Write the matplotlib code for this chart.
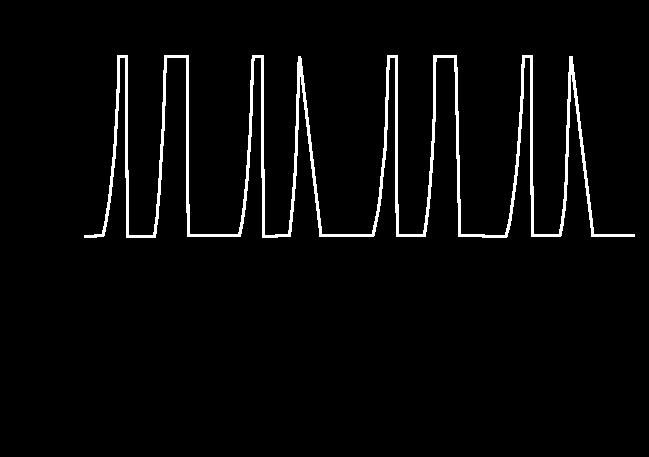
import matplotlib
matplotlib.use("Agg")
import matplotlib.pyplot as plt

# signal: t = sample position, v = level (0 = rest, 1 = saturated)
t = [0, 9.0, 9.5, 17.0,
     17.3, 18.7, 20.0, 21.3, 22.7, 24.0, 25.3, 26.7, 28.0, 29.0, 30.0, 31.0, 32.0, 32.7,
     40.7, 40.7, 41.7, 68.4,
     69.0, 70.0, 71.0, 71.7, 72.7, 73.7, 74.7, 75.7, 76.7, 77.7, 78.7, 79.7,
     101.3, 101.3, 102.3, 153.4,
     153.7, 154.7, 155.7, 156.7, 157.7, 158.7, 159.7, 160.7, 161.7, 162.7, 163.7, 164.7, 165.7, 166.3, 167.3,
     176.7, 176.7, 177.7, 190.0, 190.5, 203.5,
     204.0, 205.0, 206.0, 207.0, 208.0, 209.0, 210.0, 211.0, 212.0, 213.0, 213.7,
     235.0, 287.0,
     287.3, 288.0, 289.0, 290.0, 291.0, 292.0, 293.0, 294.0, 295.0, 296.0, 297.5, 299.0, 300.0, 301.0, 302.0, 302.7,
     310.3, 310.3, 311.3, 338.4,
     338.7, 339.7, 340.7, 341.7, 342.7, 343.7, 344.7, 345.7, 346.7, 347.7, 348.3, 348.7, 349.0,
     369.7, 373.8, 397.3, 397.8, 419.8,
     420.0, 421.3, 422.7, 424.0, 425.3, 426.7, 428.0, 429.3, 430.7, 432.0, 433.3, 434.7, 436.0, 437.3,
     445.5, 445.5, 446.5, 473.7,
     474.0, 475.0, 476.0, 477.0, 478.0, 479.0, 480.0, 481.0, 482.0, 483.0, 484.0, 485.0,
     507.0, 547.3]
v = [0, 0, 0.006, 0.006,
     0.011, 0.048, 0.085, 0.131, 0.177, 0.232, 0.297, 0.362, 0.435, 0.509, 0.601, 0.703, 0.804, 1.0,
     1.0, 0.5, 0.0, 0.0,
     0.021, 0.067, 0.104, 0.159, 0.214, 0.288, 0.389, 0.491, 0.555, 0.675, 0.878, 1.0,
     1.0, 0.511, 0.006, 0.006,
     0.011, 0.039, 0.066, 0.103, 0.140, 0.186, 0.241, 0.297, 0.362, 0.454, 0.528, 0.629, 0.786, 0.924, 1.0,
     1.0, 0.502, 0.0, 0.0, 0.006, 0.006,
     0.030, 0.085, 0.140, 0.204, 0.269, 0.343, 0.454, 0.601, 0.777, 0.961, 1.0,
     0.006, 0.006,
     0.011, 0.030, 0.057, 0.085, 0.113, 0.140, 0.177, 0.214, 0.269, 0.334, 0.41, 0.481, 0.601, 0.777, 0.934, 1.0,
     1.0, 0.509, 0.006, 0.006,
     0.021, 0.057, 0.103, 0.140, 0.196, 0.260, 0.334, 0.408, 0.491, 0.601, 0.684, 0.786, 1.0,
     1.0, 0.006, 0.006, 0.0, 0.0,
     0.002, 0.030, 0.057, 0.094, 0.140, 0.196, 0.251, 0.306, 0.371, 0.454, 0.546, 0.657, 0.768, 1.0,
     1.0, 0.51, 0.006, 0.006,
     0.009, 0.036, 0.064, 0.111, 0.148, 0.203, 0.295, 0.461, 0.609, 0.756, 0.904, 1.0,
     0.006, 0.006]

fig = plt.figure(figsize=(6.49, 4.57), dpi=100, facecolor="black")
ax = fig.add_axes([86 / 649, (457 - 236.7) / 457, 547.3 / 649, 180.4 / 457])
ax.set_facecolor("black")

ax.plot(t, v, color="white", lw=1.5, antialiased=False, clip_on=False,
        solid_joinstyle="miter")

ax.set_xlim(0, 547.3)
ax.set_ylim(0, 1)
ax.axis("off")

fig.savefig("out.png", dpi=100, facecolor="black")
